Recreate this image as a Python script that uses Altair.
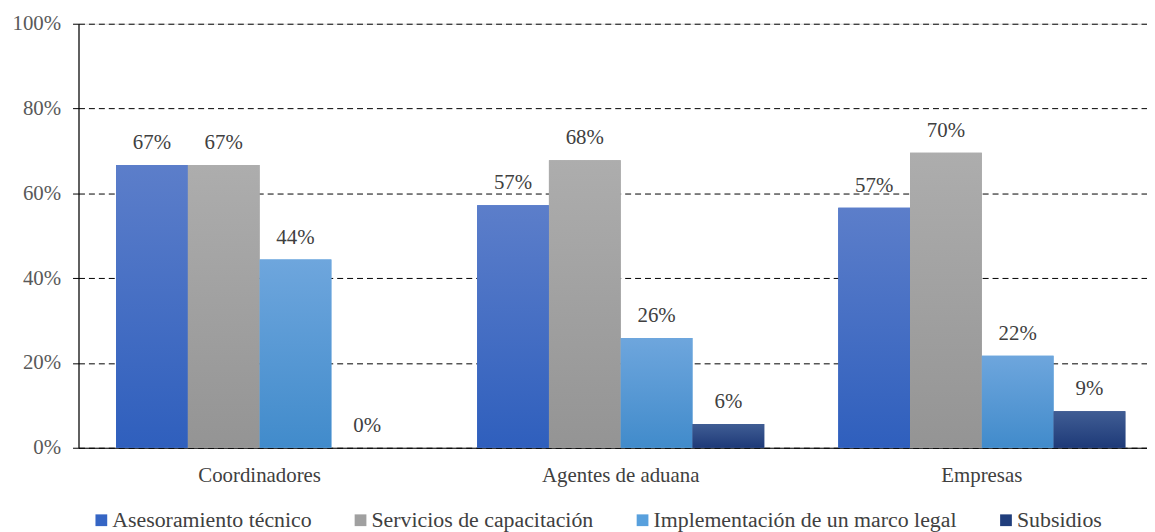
import altair as alt
import pandas as pd

groups = ["Coordinadores", "Agentes de aduana", "Empresas"]
series = [
    "Asesoramiento técnico",
    "Servicios de capacitación",
    "Implementación de un marco legal",
    "Subsidios",
]
asesoramiento = [66.7, 57.2, 56.6]
capacitacion = [66.7, 67.8, 69.6]
marco_legal = [44.4, 25.9, 21.7]
subsidios = [0.0, 5.6, 8.6]
labels_ases = ["67%", "57%", "57%"]
labels_cap = ["67%", "68%", "70%"]
labels_marco = ["44%", "26%", "22%"]
labels_sub = ["0%", "6%", "9%"]
y_ticks = [0, 20, 40, 60, 80, 100]

legend_colors = ["#3565C4", "#A0A0A0", "#58A0DD", "#203E7C"]
gradients = [
    ("#5C7ECA", "#2F5FBD"),
    ("#ADADAD", "#949494"),
    ("#6EA6DD", "#418BCB"),
    ("#405D94", "#1E3A78"),
]

rows = []
for s, vals, labs in zip(series,
                         [asesoramiento, capacitacion, marco_legal, subsidios],
                         [labels_ases, labels_cap, labels_marco, labels_sub]):
    for g, v, l in zip(groups, vals, labs):
        rows.append({"group": g, "series": s, "value": v, "label": l})
df = pd.DataFrame(rows)

FONT = "Liberation Serif"

x_enc = alt.X(
    "group:N",
    sort=groups,
    scale=alt.Scale(paddingInner=0.205, paddingOuter=0.104, range=[0, 1092]),
    axis=alt.Axis(
        title=None, labelAngle=0, ticks=False, tickSize=0, labelPadding=17,
        labelFont=FONT, labelFontSize=21, labelColor="#404040",
        domainColor="#000000", domainWidth=1.2,
    ),
)
xo_enc = alt.XOffset(
    "series:N", sort=series,
    scale=alt.Scale(domain=series, paddingInner=0, paddingOuter=0),
)
y_enc = alt.Y(
    "value:Q",
    scale=alt.Scale(domain=[0, 100], nice=False),
    axis=alt.Axis(
        title=None, values=y_ticks, labelExpr="datum.value + '%'",
        grid=True, gridDash=[6, 4], gridColor="#000000", gridWidth=1,
        tickSize=6, tickColor="#000000", domainColor="#000000", domainWidth=1.2,
        labelPadding=12, labelFont=FONT, labelFontSize=21, labelColor="#595959",
    ),
)

base = alt.Chart(df).encode(x=x_enc, xOffset=xo_enc, y=y_enc)

solid = base.mark_bar().encode(
    color=alt.Color(
        "series:N", sort=series,
        scale=alt.Scale(domain=series, range=legend_colors),
        legend=alt.Legend(
            title=None, orient="none", direction="horizontal", columns=4,
            legendX=12, legendY=489, symbolType="square", symbolSize=140,
            symbolStrokeWidth=0, labelOffset=0, columnPadding=38,
            labelFont=FONT, labelFontSize=22, labelColor="#404040",
            labelLimit=400,
        ),
    )
)

grad_layers = []
for s, (c_top, c_bot) in zip(series, gradients):
    grad = alt.Gradient(
        gradient="linear",
        stops=[alt.GradientStop(color=c_top, offset=0),
               alt.GradientStop(color=c_bot, offset=1)],
        x1=0, x2=0, y1=0, y2=1,
    )
    grad_layers.append(
        base.transform_filter(alt.datum.series == s).mark_bar(color=grad)
    )

text = base.mark_text(
    dy=-22, baseline="middle", align="center",
    font=FONT, fontSize=21, color="#404040",
).encode(text="label:N")

chart = alt.layer(solid, *grad_layers, text).properties(
    width=1076,
    height=427,
    padding={"left": 71, "top": 14, "right": 0, "bottom": 83},
    autosize=alt.AutoSizeParams(type="none"),
).configure_view(stroke=None).configure(background="white")

chart.save("out.html", embed_options={"renderer": "svg", "actions": False})
